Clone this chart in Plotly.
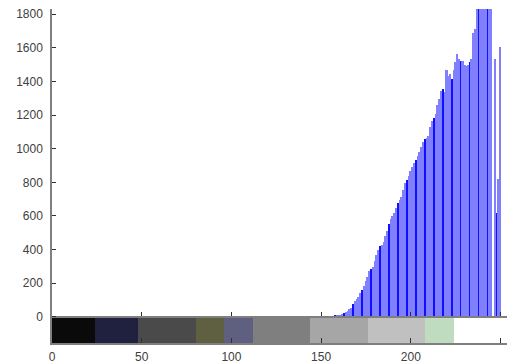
import plotly.graph_objects as go

# Histogram data: intensity bins and counts
bins = list(range(155, 256))
counts = [
    0, 3, 5, 6, 8, 10, 12, 16, 22, 28,            # 155-164
    35, 45, 55, 75, 92, 105, 120, 140, 160, 185,   # 165-174
    212, 240, 272, 287, 298, 330, 370, 395, 420, 430,  # 175-184
    445, 480, 510, 550, 580, 600, 620, 645, 675, 695,  # 185-194
    712, 755, 795, 815, 835, 865, 890, 915, 935, 955,  # 195-204
    980, 1007, 1040, 1055, 1065, 1075, 1130, 1164, 1185, 1204,  # 205-214
    1260, 1293, 1340, 1353, 1335, 1470, 1432, 1442, 1412, 1470,  # 215-224
    1513, 1561, 1532, 1522, 1522, 1500, 1492, 1500, 1513, 1532,  # 225-234
    1690, 1711, 1950, 2000, 2050, 2100, 2080, 2120, 2150, 2100,  # 235-244
    2050, 0, 1530, 620, 820, 1605, 0, 0, 0, 0, 0,  # 245-255
]

# Palette strip below the histogram
pal_start = [0, 24, 48, 80, 96, 112, 144, 176, 208, 224]
pal_end = [24, 48, 80, 96, 112, 144, 176, 208, 224, 256]
pal_colors = ["#0a0a0a", "#20203f", "#4a4a4a", "#5f5f42", "#5f5f7f",
              "#7f7f7f", "#a6a6a6", "#c0c0c0", "#c0dcc0", "#ffffff"]

y_ticks = [0, 200, 400, 600, 800, 1000, 1200, 1400, 1600, 1800]
x_ticks = [0, 50, 100, 150, 200, 250]

strip_depth = 155
y_top = 1830
x_max = 253.6

bar_colors = ["#1010ff" if b % 5 == 3 else "#8080ff" for b in bins]

fig = go.Figure()

fig.add_trace(go.Bar(
    x=[(s + e) / 2 for s, e in zip(pal_start, pal_end)],
    y=[strip_depth] * len(pal_start),
    base=[-strip_depth] * len(pal_start),
    width=[e - s for s, e in zip(pal_start, pal_end)],
    marker=dict(color=pal_colors, line=dict(width=0)),
    hoverinfo="skip",
    showlegend=False,
))

fig.add_trace(go.Bar(
    x=bins,
    y=counts,
    width=1,
    marker=dict(color=bar_colors, line=dict(width=0)),
    showlegend=False,
))

# invisible trace to activate overlay axis
fig.add_trace(go.Scatter(x=[0], y=[0], xaxis="x2", mode="markers",
                         marker=dict(opacity=0), hoverinfo="skip", showlegend=False))

font = dict(family="Liberation Sans, Arial, sans-serif", size=12, color="#404040")

fig.update_layout(
    width=507, height=364,
    margin=dict(l=52, r=0, t=9, b=21),
    paper_bgcolor="white", plot_bgcolor="white",
    bargap=0, barmode="overlay",
    font=font,
    xaxis=dict(
        range=[0, x_max], tickvals=x_ticks, ticktext=[str(v) for v in x_ticks],
        ticks="inside", ticklen=5, tickcolor="#303030", tickwidth=1,
        showline=True, linecolor="#7f7f7f", linewidth=1.5,
        showgrid=False, zeroline=False, ticklabelstandoff=2,
        layer="above traces",
    ),
    xaxis2=dict(
        overlaying="x", matches="x", anchor="free",
        position=strip_depth / (y_top + strip_depth),
        tickvals=x_ticks, ticks="inside", ticklen=4, tickcolor="#303030",
        showticklabels=False, showline=True, linecolor="#7f7f7f", linewidth=1.5,
        showgrid=False, zeroline=False, side="bottom", layer="above traces",
    ),
    yaxis=dict(
        range=[-strip_depth, y_top], tickvals=y_ticks, ticktext=[str(v) for v in y_ticks],
        ticks="inside", ticklen=4, tickcolor="#303030",
        showline=True, linecolor="#7f7f7f", linewidth=1.5,
        showgrid=False, zeroline=False, ticklabelstandoff=5,
        layer="above traces",
    ),
)

fig.write_html("out.html")
